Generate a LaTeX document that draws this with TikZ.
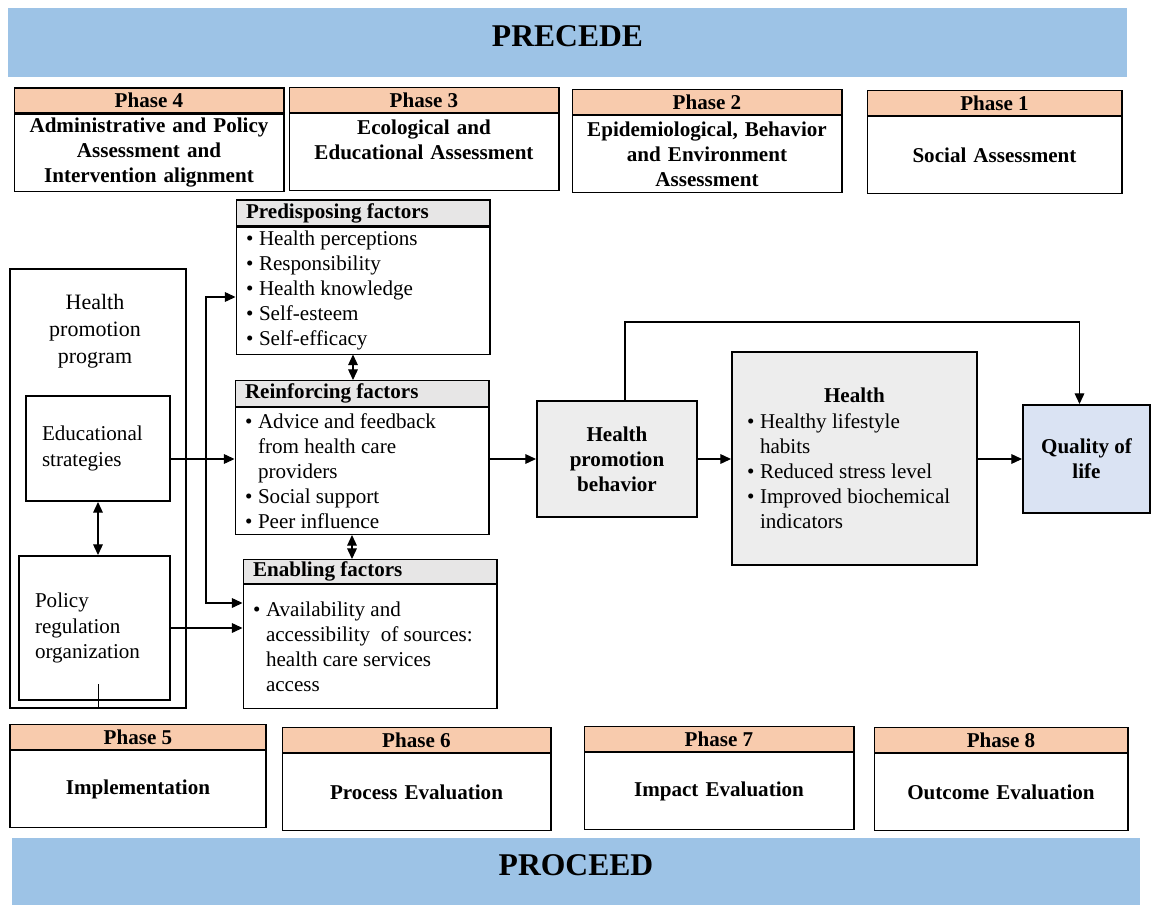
\documentclass[tikz,border=0pt]{standalone}
\usepackage{fontspec}
\setmainfont{Liberation Serif}
\usetikzlibrary{positioning, arrows.meta}

\definecolor{bannerblue}{RGB}{157,195,230}
\definecolor{peach}{RGB}{248,203,173}
\definecolor{headgrey}{RGB}{231,230,230}
\definecolor{boxgrey}{RGB}{237,237,237}
\definecolor{qolblue}{RGB}{218,227,243}

\newcommand{\nf}{\fontsize{12}{14.3}\selectfont}
\newcommand{\bl}{\makebox[0.26cm][l]{\textbullet}}
\newcommand{\nb}{\hspace*{0.26cm}}

\begin{document}
\begin{tikzpicture}[x=0.02cm, y=-0.02cm, line width=0.6pt,
    >={Triangle[length=6pt,width=5.5pt]},
    banner/.style={fill=bannerblue, inner sep=0pt, text height=0.42cm, text depth=0.28cm, font=\fontsize{18}{22}\selectfont\bfseries},
    phasehead/.style={draw, fill=peach, minimum width=#1, minimum height=0.5cm, inner sep=0pt, font=\nf\bfseries},
    phasebody/.style={draw, text width=#1, minimum height=1.54cm, inner sep=0pt, align=center, font=\nf\bfseries},
    facthead/.style={draw, fill=headgrey, text width=4.68cm, inner xsep=0.2cm, inner ysep=0pt, minimum height=0.52cm, align=flush left, font=\nf\bfseries},
    factbody/.style={draw, text width=4.68cm, inner xsep=0.2cm, inner ysep=0pt, align=flush left, font=\nf},
    thickbox/.style={draw, line width=1.2pt, inner sep=0pt, font=\nf},
    mainbox/.style={draw, line width=1.2pt, fill=boxgrey, inner sep=0pt, align=center, font=\nf\bfseries}]
  \useasboundingbox (0,0) rectangle (1153,906);

  % banners
  \node[banner, minimum width=22.38cm, minimum height=1.38cm] (precede) at (567.5,42.5) {PRECEDE};
  \node[banner, minimum width=22.56cm, minimum height=1.34cm] (proceed) at (576,871.5) {PROCEED};

  % precede phases
  \node[phasehead=5.4cm] (ph4) at (149,100.5) {Phase 4};
  \node[phasebody=5.4cm, below=0pt of ph4] (ph4txt) {Administrative and Policy\\Assessment and\\Intervention alignment};
  \node[phasehead=5.4cm] (ph3) at (424,100) {Phase 3};
  \node[phasebody=5.4cm, below=0pt of ph3] (ph3txt) {Ecological and\\Educational Assessment\\~};
  \node[phasehead=5.4cm] (ph2) at (707,102) {Phase 2};
  \node[phasebody=5.4cm, below=0pt of ph2] (ph2txt) {Epidemiological, Behavior\\and Environment\\Assessment};
  \node[phasehead=5.1cm] (ph1) at (994.5,103) {Phase 1};
  \node[phasebody=5.1cm, below=0pt of ph1] (ph1txt) {Social Assessment};

  % proceed phases
  \node[phasehead=5.12cm] (ph5) at (138,737) {Phase 5};
  \node[phasebody=5.12cm, below=0pt of ph5] (ph5txt) {Implementation};
  \node[phasehead=5.38cm] (ph6) at (416.5,740) {Phase 6};
  \node[phasebody=5.38cm, below=0pt of ph6] (ph6txt) {Process Evaluation};
  \node[phasehead=5.4cm] (ph7) at (719,739) {Phase 7};
  \node[phasebody=5.4cm, below=0pt of ph7] (ph7txt) {Impact Evaluation};
  \node[phasehead=5.08cm] (ph8) at (1001,740) {Phase 8};
  \node[phasebody=5.08cm, below=0pt of ph8] (ph8txt) {Outcome Evaluation};

  % health promotion program
  \node[thickbox, minimum width=3.52cm, minimum height=8.78cm] (hpp) at (98,488.5) {};
  \node[font=\fontsize{12.5}{15.4}\selectfont, align=center] (hpptxt) at (95,331) {Health\\promotion\\program};
  \node[thickbox, minimum width=2.88cm, minimum height=2.1cm, text width=2.24cm, inner xsep=0.32cm, align=flush left] (edu) at (98,448.5) {Educational\\strategies};
  \node[thickbox, minimum width=3.02cm, minimum height=2.88cm, text width=2.38cm, inner xsep=0.32cm, align=flush left] (pol) at (94.5,628) {Policy\\regulation\\organization};

  % factors
  \node[facthead] (pred) at (363,213) {Predisposing factors};
  \node[factbody, minimum height=2.54cm, below=0pt of pred] (predlist) {\bl Health perceptions\\ \bl Responsibility\\ \bl Health knowledge\\ \bl Self-esteem\\ \bl Self-efficacy};
  \node[facthead] (reinf) at (362,393.5) {Reinforcing factors};
  \node[factbody, minimum height=2.54cm, below=0pt of reinf] (reinflist) {\bl Advice and feedback\\ \nb from health care\\ \nb providers\\ \bl Social support\\ \bl Peer influence};
  \node[facthead, minimum height=0.48cm] (enab) at (370,571.5) {Enabling factors};
  \node[factbody, minimum height=2.48cm, below=0pt of enab] (enablist) {\bl Availability and\\ \nb accessibility~ of sources:\\ \nb health care services\\ \nb access};

  % outcomes
  \node[mainbox, minimum width=3.2cm, minimum height=2.32cm] (hpb) at (617,459) {Health\\promotion\\behavior};
  \node[mainbox, minimum width=4.9cm, minimum height=4.26cm, text width=4.3cm, inner xsep=0.3cm, align=flush left, font=\nf] (health) at (854.5,458.5)
    {\makebox[4.3cm]{\textbf{Health}}\\ \bl Healthy lifestyle\\ \nb habits\\ \bl Reduced stress level\\ \bl Improved biochemical\\ \nb indicators};
  \node[mainbox, fill=qolblue, minimum width=2.54cm, minimum height=2.16cm] (qol) at (1086.5,459) {Quality of\\life};

  % connectors
  \draw[<->] (edu.south) -- (edu.south |- pol.north);
  \draw[->] (edu.east |- hpb) -- (reinflist.west |- hpb);
  \draw[->] (pol.east) -- (enablist.west |- pol.east);
  \draw (pol.south) ++(4,-17) -- ++(0,25);

  \coordinate (brtop) at (206,297);
  \coordinate (brbot) at (206,603);
  \draw[<->] (predlist.west |- brtop) -- (brtop) -- (brbot) -- (enablist.west |- brbot);

  \draw[<->] ([xshift=-0.2cm]predlist.south) -- ([xshift=-0.2cm]predlist.south |- reinf.north);
  \draw[<->] ([xshift=-0.2cm]reinflist.south) -- ([xshift=-0.2cm]reinflist.south |- enab.north);

  \draw[->] (reinflist.east |- hpb) -- (hpb.west);
  \draw[->] (hpb.east) -- (health.west |- hpb.east);
  \draw[->] (health.east |- hpb) -- (qol.west |- hpb);
  \coordinate (fb) at (850,322);
  \draw[->] ([xshift=0.16cm]hpb.north) |- (fb) -| ([xshift=-0.14cm]qol.north);
\end{tikzpicture}
\end{document}
